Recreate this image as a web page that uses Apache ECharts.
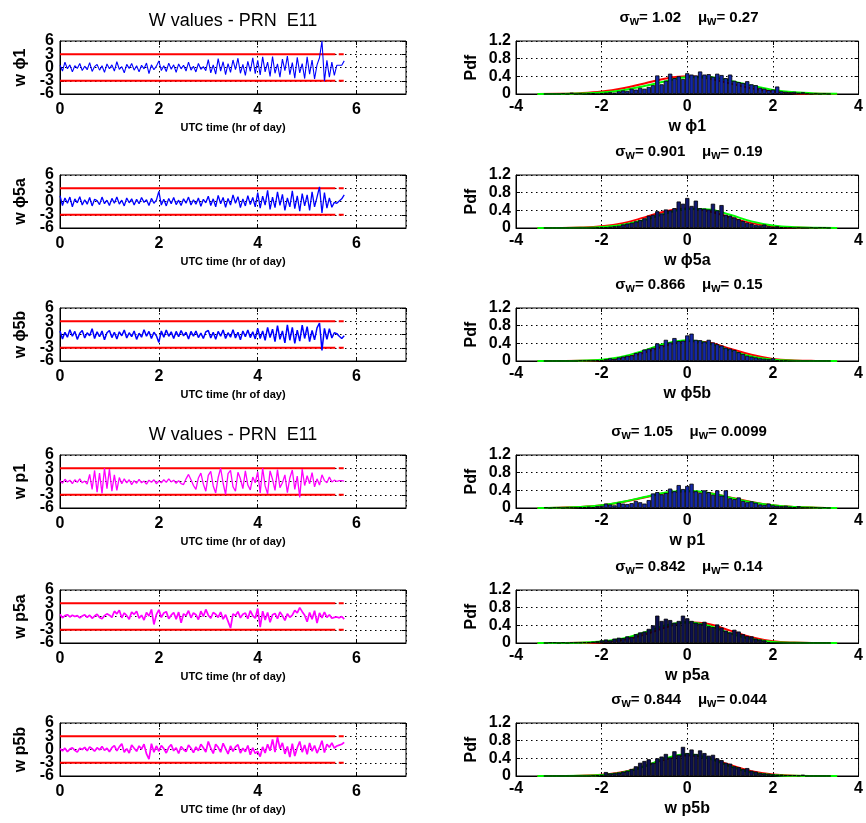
<!DOCTYPE html>
<html><head><meta charset="utf-8">
<script src="https://cdn.jsdelivr.net/npm/echarts@6/dist/echarts.min.js"></script>
<style>html,body{margin:0;padding:0;background:#fff}#c{width:866px;height:823px}</style>
</head><body><div id="c"></div>
<script>
// ---------- DATA ----------
const rowLabels = ['w ϕ1','w ϕ5a','w ϕ5b','w p1','w p5a','w p5b'];
const sigmaW = ['1.02','0.901','0.866','1.05','0.842','0.844'];
const muW = ['0.27','0.19','0.15','0.0099','0.14','0.044'];
const leftTitle = 'W values - PRN  E11';
const timeAxisName = 'UTC time (hr of day)';
const thresholdLevels = [3, -3];
const thresholdSegments = [[0, 5.57], [5.64, 5.74]];

const timeHours = [
0,0.05,0.1,0.15,0.2,0.25,0.3,0.35,0.4,0.45,0.5,0.55,0.6,0.65,0.7,0.75,0.8,0.85,0.9,0.95,
1,1.05,1.1,1.15,1.2,1.25,1.3,1.35,1.4,1.45,1.5,1.55,1.6,1.65,1.7,1.75,1.8,1.85,1.9,1.95,
2,2.05,2.1,2.15,2.2,2.25,2.3,2.35,2.4,2.45,2.5,2.55,2.6,2.65,2.7,2.75,2.8,2.85,2.9,2.95,
3,3.05,3.1,3.15,3.2,3.25,3.3,3.35,3.4,3.45,3.5,3.55,3.6,3.65,3.7,3.75,3.8,3.85,3.9,3.95,
4,4.05,4.1,4.15,4.2,4.25,4.3,4.35,4.4,4.45,4.5,4.55,4.6,4.65,4.7,4.75,4.8,4.85,4.9,4.95,
5,5.05,5.1,5.15,5.2,5.25,5.3,5.35,5.4,5.45,5.5,5.55,5.6,5.65,5.7,5.75];

const wPhi1 = [
0.5,-0.8,1.2,-0.3,0.6,-1.0,0.4,-0.2,0.9,-0.7,0.3,-0.5,1.1,-0.9,0.2,0.7,-0.6,0.4,-1.1,0.8,
-0.3,0.6,-0.8,1.3,-0.4,0.2,-1.2,0.7,-0.2,0.9,-0.6,0.4,-1.0,0.5,-0.3,1.0,-1.4,0.6,-0.5,0.3,
1.5,-0.7,0.4,-0.9,1.0,-0.4,0.6,-1.1,0.8,-0.3,0.5,-0.8,1.2,-0.6,0.3,-1.0,0.9,-0.4,0.2,-0.7,
1.8,-1.2,0.6,-1.5,2.0,-0.8,1.3,-1.6,0.9,-1.1,1.7,-0.5,2.1,-1.3,0.7,-1.8,1.4,-0.9,2.2,-1.4,
1.6,-1.7,2.4,-1.0,1.2,-2.0,2.5,-1.3,0.8,-2.2,1.9,-0.7,2.6,-1.6,1.1,-2.4,2.3,-1.2,0.9,-2.5,
2.4,-1.5,1.7,-2.6,0.6,2.2,6.0,-3.1,1.6,-2.2,1.2,-1.8,0.5,0.5,0.5,1.5];
const wPhi5a = [
1.3,-0.9,0.8,-0.4,1.0,-1.2,0.6,-0.3,1.1,-0.8,0.4,-0.6,0.9,-1.0,0.5,0.2,-0.7,1.0,-0.5,0.3,
-0.9,0.7,-0.4,1.0,-0.6,0.3,-1.0,0.8,-0.3,0.6,-0.8,0.5,-0.5,0.9,-0.2,0.4,-0.9,0.7,-0.4,0.3,
2.3,-0.8,0.5,-1.0,0.7,-0.5,0.9,-0.7,0.3,-0.9,0.6,-0.4,1.0,-0.8,0.4,-0.6,0.8,-1.1,0.5,-0.3,
1.2,-0.9,0.6,-1.2,1.4,-0.5,0.9,-1.3,0.7,-0.8,1.5,-0.4,1.1,-1.4,0.6,-1.0,1.3,-0.7,0.9,-1.2,
2.0,-1.5,1.2,-0.8,2.5,-1.8,1.0,-1.4,2.2,-0.9,1.6,-2.0,0.8,-1.2,2.4,-1.6,1.3,-2.2,1.8,-1.0,
1.5,-2.0,2.2,-1.2,1.0,3.3,-2.6,2.0,-1.5,0.8,-1.3,-0.2,-0.4,0.1,0.6,1.5];
const wPhi5b = [
0.8,-1.0,0.5,-0.6,1.1,-0.4,0.7,-1.1,0.3,0.9,-0.8,0.4,-0.3,1.3,-0.9,0.6,-0.5,0.8,-1.2,0.4,
0.9,-0.7,0.5,-1.0,0.6,-0.3,1.0,-0.8,0.4,-0.5,0.8,-1.1,0.3,-0.6,1.1,-0.4,0.7,-0.9,0.5,-0.3,
-1.8,0.8,-0.6,1.0,-0.4,0.6,-0.9,0.7,-0.5,0.9,-0.3,0.5,-1.0,0.7,-0.4,0.8,-0.7,0.3,-0.9,0.6,
0.9,-0.8,0.5,-1.1,0.7,-0.4,1.0,-0.9,0.4,-0.6,1.1,-0.8,0.5,-1.2,0.8,-0.5,1.0,-0.7,0.6,-1.0,
1.4,-0.9,0.8,-1.3,1.6,-0.7,1.2,-1.6,2.0,-1.1,0.8,-1.9,2.2,-1.3,1.6,-2.0,1.0,-1.5,2.1,-0.9,
1.8,-1.6,0.9,-1.2,1.5,2.6,-3.6,1.4,-1.1,1.3,-0.8,0.4,0.2,-0.4,-0.9,-0.3];
const wP1 = [
0.2,-0.4,0.5,-0.1,0.3,-0.5,0.4,-0.2,0.6,-0.3,0.1,-0.6,1.6,-1.8,2.5,-2.4,1.9,-2.7,3.0,-1.6,
2.8,-2.2,1.5,-2.0,0.9,-0.5,0.6,-0.3,0.4,-0.7,0.2,-0.4,0.5,-0.3,0.1,-0.6,0.3,-0.2,0.4,-0.5,
0.1,-0.3,0.4,-0.2,0.6,-0.1,0.3,-0.4,0.2,-0.5,-0.7,0.6,1.6,0.4,-0.9,-1.8,0.8,1.9,-0.6,-2.2,
1.4,2.3,-1.0,-2.6,0.9,3.0,-0.4,-2.9,1.8,2.5,-1.2,-2.2,2.1,0.6,-1.6,2.4,-0.8,-1.9,1.0,-0.3,
2.2,-2.6,3.0,-1.0,-2.8,2.4,0.5,-2.0,2.7,-1.4,-0.3,1.5,-2.5,0.8,2.6,-1.8,1.2,-3.6,2.8,-0.9,
1.3,-0.5,2.0,-1.2,0.6,-0.8,1.5,0.2,-0.3,1.0,-0.1,0.3,0.0,0.2,0.2,0.1];
const wP5a = [
0.5,-0.3,0.2,0.4,-0.1,0.3,0.0,0.2,-0.3,0.1,0.4,-0.2,0.3,-0.4,0.1,0.5,-0.2,-0.5,0.2,0.6,
0.3,-0.2,1.2,0.6,1.4,-0.3,0.8,0.2,-0.6,1.0,0.5,1.2,-0.4,0.3,-0.8,0.9,0.1,1.6,-1.8,0.4,
1.5,-0.2,0.8,1.1,-0.5,0.3,0.9,-0.6,1.0,-1.4,0.6,0.2,1.3,-0.3,0.8,0.4,-0.7,1.2,0.0,1.6,
0.3,-0.4,0.9,0.5,-0.2,1.0,-0.6,0.4,-1.1,-2.6,0.6,0.2,1.1,-0.3,0.5,0.8,-0.5,1.3,0.2,-0.4,
1.8,-2.4,1.2,-0.8,0.9,-1.3,0.4,0.7,-0.5,1.0,0.2,-0.9,0.6,-0.2,0.3,1.4,0.8,2.0,1.1,0.3,
-1.2,0.9,-0.6,1.3,-1.5,0.8,-0.3,1.0,-0.2,0.4,-0.4,-0.2,-0.1,-0.3,0.0,-0.6];
const wP5b = [
0.2,-0.3,0.3,-0.5,0.1,0.4,-0.2,-0.6,0.3,0.0,0.5,-0.3,0.6,0.2,-0.4,0.4,-0.1,0.7,-0.2,0.3,
-0.5,0.4,0.9,-0.3,0.6,1.3,-0.6,0.2,-0.8,1.0,0.3,-0.4,0.8,0.1,1.2,-1.0,-2.2,1.3,-0.6,0.8,
-0.4,0.9,0.2,-0.8,0.5,1.1,-0.3,0.4,-0.9,0.7,0.0,-0.5,1.0,0.3,-0.7,0.6,-0.3,1.2,0.4,-0.6,
1.8,0.3,-0.9,1.2,0.5,-0.6,1.4,0.2,-1.0,0.8,-0.4,0.6,1.1,-0.8,0.3,-0.5,0.9,-1.2,0.4,-0.9,
-0.4,-1.6,0.6,-0.8,1.2,-0.3,2.3,-0.6,2.8,0.2,1.5,-1.0,0.7,-1.7,1.3,-1.5,0.4,1.8,-0.6,1.0,
-1.1,1.5,-0.4,0.9,-0.8,0.4,2.0,-0.7,1.2,0.5,1.5,0.3,0.8,1.0,1.2,1.6];

const binCenters = [
-3.3,-3.2,-3.1,-3.0,-2.9,-2.8,-2.7,-2.6,-2.5,-2.4,-2.3,-2.2,-2.1,-2.0,-1.9,-1.8,-1.7,-1.6,-1.5,-1.4,
-1.3,-1.2,-1.1,-1.0,-0.9,-0.8,-0.7,-0.6,-0.5,-0.4,-0.3,-0.2,-0.1,0,0.1,0.2,0.3,0.4,0.5,0.6,
0.7,0.8,0.9,1.0,1.1,1.2,1.3,1.4,1.5,1.6,1.7,1.8,1.9,2.0,2.1,2.2,2.3,2.4,2.5,2.6,
2.7,2.8,2.9,3.0,3.1,3.2,3.3];

const pdfPhi1 = [
0,0,0,0,0.01,0,0.03,0,0.01,0,0.01,0.02,0,0.02,0.03,0.04,0.03,0.06,0.08,0.07,
0.12,0.10,0.14,0.12,0.16,0.20,0.42,0.22,0.30,0.46,0.36,0.40,0.34,0.47,0.44,0.42,0.51,0.44,0.45,0.39,
0.46,0.43,0.36,0.44,0.30,0.27,0.25,0.29,0.22,0.20,0.14,0.12,0.09,0.10,0.17,0.06,0.05,0.04,0.05,0.03,
0.04,0.01,0,0.01,0,0.01,0];
const pdfPhi5a = [
0,0,0,0,0,0,0,0,0,0,0,0,0.01,0.02,0.02,0.03,0.04,0.05,0.08,0.10,
0.12,0.15,0.18,0.22,0.28,0.30,0.38,0.33,0.42,0.40,0.45,0.60,0.55,0.68,0.50,0.62,0.45,0.44,0.42,0.55,
0.40,0.52,0.30,0.28,0.24,0.20,0.16,0.12,0.10,0.07,0.06,0.08,0.04,0.03,0.04,0.02,0.01,0.01,0,0.01,
0,0,0.01,0,0.01,0.01,0];
const pdfPhi5b = [
0,0,0,0,0,0,0,0,0.01,0.01,0.01,0.01,0.02,0.02,0.04,0.06,0.05,0.08,0.10,0.12,
0.13,0.18,0.20,0.26,0.28,0.30,0.40,0.36,0.48,0.42,0.52,0.45,0.46,0.58,0.62,0.48,0.47,0.44,0.48,0.42,
0.38,0.35,0.30,0.28,0.25,0.20,0.16,0.12,0.10,0.08,0.06,0.05,0.04,0.06,0.02,0.01,0.01,0,0,0,
0,0,0,0,0,0,0];
const pdfP1 = [
0.01,0,0.01,0.01,0,0.01,0.01,0.01,0.02,0.02,0.03,0.02,0.04,0.05,0.10,0.08,0.06,0.12,0.10,0.09,
0.11,0.16,0.13,0.10,0.18,0.33,0.36,0.31,0.34,0.44,0.38,0.52,0.43,0.50,0.55,0.38,0.34,0.40,0.36,0.30,
0.40,0.28,0.40,0.22,0.20,0.24,0.16,0.13,0.15,0.12,0.08,0.07,0.10,0.06,0.05,0.04,0.05,0.03,0.02,0.04,
0.01,0.01,0.01,0.01,0,0.01,0];
const pdfP5a = [
0,0.01,0.01,0,0.01,0,0.01,0.01,0.01,0.02,0.02,0.03,0.04,0.06,0.08,0.06,0.10,0.12,0.11,0.15,
0.14,0.20,0.24,0.26,0.32,0.40,0.62,0.50,0.55,0.52,0.46,0.50,0.62,0.56,0.50,0.46,0.44,0.48,0.38,0.36,
0.42,0.35,0.28,0.24,0.30,0.26,0.20,0.16,0.15,0.10,0.08,0.06,0.02,0,0,0,0,0,0,0,
0,0,0,0,0,0,0];
const pdfP5b = [
0,0,0,0,0,0,0,0,0,0,0,0.01,0.02,0.03,0.09,0.06,0.07,0.08,0.10,0.12,
0.16,0.22,0.30,0.34,0.38,0.30,0.40,0.44,0.50,0.42,0.56,0.48,0.66,0.52,0.60,0.50,0.58,0.52,0.46,0.48,
0.40,0.36,0.30,0.28,0.22,0.20,0.16,0.18,0.12,0.10,0.07,0.06,0.05,0.04,0.03,0.03,0.02,0.02,0.02,0.01,
0.03,0,0,0,0,0,0];

const curveX = [-3.5,-3,-2.5,-2,-1.5,-1,-0.5,0,0.5,1,1.5,2,2.5,3,3.5];
const redPhi1 = [0.001,0.004,0.018,0.054,0.13,0.24,0.35,0.40,0.35,0.24,0.13,0.054,0.018,0.004,0.001];
const greenPhi1 = [0.001,0.002,0.01,0.033,0.086,0.18,0.29,0.38,0.38,0.30,0.19,0.093,0.037,0.011,0.003];
const redPhi5a = [0,0.001,0.009,0.038,0.11,0.24,0.38,0.44,0.38,0.24,0.11,0.038,0.009,0.001,0];
const greenPhi5a = [0,0.001,0.005,0.024,0.076,0.18,0.33,0.43,0.42,0.30,0.15,0.058,0.017,0.003,0];
const redPhi5b = [0,0.001,0.004,0.022,0.075,0.19,0.35,0.455,0.42,0.28,0.14,0.047,0.012,0.002,0];
const greenPhi5b = [0,0.001,0.008,0.03,0.10,0.24,0.395,0.47,0.395,0.24,0.10,0.03,0.008,0.001,0];
const redP1 = [0.002,0.007,0.023,0.062,0.137,0.24,0.34,0.38,0.34,0.24,0.137,0.062,0.023,0.007,0.002];
const greenP1 = [0.002,0.006,0.02,0.06,0.14,0.25,0.35,0.39,0.34,0.235,0.13,0.06,0.022,0.007,0.002];
const redP5a = [0,0.001,0.004,0.019,0.072,0.19,0.355,0.47,0.43,0.28,0.13,0.04,0.009,0.001,0];
const greenP5a = [0,0.001,0.008,0.032,0.10,0.24,0.40,0.47,0.39,0.22,0.09,0.025,0.005,0.001,0];
const redP5b = [0,0.001,0.006,0.026,0.09,0.22,0.38,0.47,0.41,0.25,0.11,0.034,0.008,0.001,0];
const greenP5b = [0,0.001,0.004,0.023,0.08,0.22,0.40,0.49,0.40,0.22,0.08,0.023,0.004,0.001,0];

// ---------- LAYOUT / STYLE ----------
const FONT = '"Liberation Sans", Arial, Helvetica, sans-serif';
const rowTops = [41,175,308,455,590,723];
const rowH = 53, leftX = 60, rightX = 516, plotW = 346;
const tsSeries = [wPhi1,wPhi5a,wPhi5b,wP1,wP5a,wP5b];
const tsColors = ['#0000ff','#0000ff','#0000ff','#ff00ff','#ff00ff','#ff00ff'];
const tsWidths = [1.1,1.3,1.5,1.3,1.7,1.7];
const pdfSeries = [pdfPhi1,pdfPhi5a,pdfPhi5b,pdfP1,pdfP5a,pdfP5b];
const redCurves = [redPhi1,redPhi5a,redPhi5b,redP1,redP5a,redP5b];
const greenCurves = [greenPhi1,greenPhi5a,greenPhi5b,greenP1,greenP5a,greenP5b];
const barFills = ['#1428a8','#101870','#1428a8','#1428a8','#0c1050','#0c1050'];

const dotted = {show:true, lineStyle:{color:'#000', type:[1.5,3.5], width:1}};
function nameStyle(sz){ return {fontFamily:FONT, fontWeight:'bold', fontSize:sz, color:'#000'}; }
function lblStyle(m, extra){ return Object.assign({fontFamily:FONT, fontWeight:'bold', fontSize:16, color:'#000', margin:m, hideOverlap:false}, extra||{}); }
const axLine = {show:true, onZero:false, lineStyle:{color:'#000', width:1}};
const axTick = {show:true, inside:true, length:4, lineStyle:{color:'#000'}};
const noLine = {show:false, onZero:false};

const grids=[], xAxes=[], yAxes=[], series=[], graphics=[];
function addX(o){ xAxes.push(o); return xAxes.length-1; }
function addY(o){ yAxes.push(o); return yAxes.length-1; }
function mirror(gi, isX, range){
  const o = Object.assign({gridIndex:gi, type:'value', position: isX?'top':'right', axisLine:noLine, axisLabel:{show:false},
    splitLine:{show:false}, axisTick:axTick}, range);
  if (isX) addX(o); else addY(o);
}
for (let r=0;r<6;r++){
  const top=rowTops[r];
  const gl=grids.length; grids.push({left:leftX, top, width:plotW, height:rowH, show:true, borderColor:'#000', borderWidth:1});
  const gr=grids.length; grids.push({left:rightX, top, width:plotW, height:rowH, show:true, borderColor:'#000', borderWidth:1});

  const tRange = {min:0, max:7, interval:2}, wRange = {min:-6, max:6, interval:3};
  const hRange = {min:-4, max:4, interval:2}, pRange = {min:0, max:1.2, interval:0.4};

  const xl = addX(Object.assign({gridIndex:gl, type:'value', position:'bottom', name:timeAxisName, nameLocation:'middle', nameGap:28,
    nameTextStyle:nameStyle(11), axisLine:axLine, axisTick:axTick,
    axisLabel:lblStyle(8, {showMaxLabel:false, formatter:v=>(v%2===0?String(v):'')}), splitLine:dotted}, tRange));
  // main left y axis: grid lines, ticks and the ±3 labels
  const yl = addY(Object.assign({gridIndex:gl, type:'value', position:'left', offset:0, name:rowLabels[r], nameLocation:'middle', nameGap:31,
    nameTextStyle:nameStyle(16), axisLine:axLine, axisTick:axTick,
    axisLabel:lblStyle(6, {showMinLabel:false, showMaxLabel:false, formatter:v=>(Math.abs(v)===3?String(v):'')}), splitLine:dotted}, wRange));
  // companion axis on the same side carrying the -6 / 0 / 6 labels
  addY({gridIndex:gl, type:'value', position:'left', offset:0, min:-6, max:6, interval:6, axisLine:noLine, axisTick:{show:false}, splitLine:{show:false},
    axisLabel:lblStyle(6, {showMinLabel:true, showMaxLabel:true})});
  mirror(gl, true, tRange); mirror(gl, false, wRange);

  const xr = addX(Object.assign({gridIndex:gr, type:'value', position:'bottom', name:rowLabels[r], nameLocation:'middle', nameGap:25,
    nameTextStyle:nameStyle(16), axisLine:axLine, axisTick:axTick,
    axisLabel:lblStyle(5, {showMinLabel:true, showMaxLabel:true}), splitLine:dotted}, hRange));
  const yr = addY(Object.assign({gridIndex:gr, type:'value', position:'left', name:'Pdf', nameLocation:'middle', nameGap:36,
    nameTextStyle:nameStyle(16), axisLine:axLine, axisTick:axTick,
    axisLabel:lblStyle(5, {showMinLabel:true, showMaxLabel:true, formatter:v=>String(Math.round(v*10)/10)}), splitLine:dotted}, pRange));
  mirror(gr, true, hRange); mirror(gr, false, pRange);

  thresholdLevels.forEach(lv=>{
    thresholdSegments.forEach(seg=>{
      series.push({type:'line', xAxisIndex:xl, yAxisIndex:yl, data:[[seg[0],lv],[seg[1],lv]], showSymbol:false,
        lineStyle:{color:'#ff0000', width:2}, z:3, silent:true});
    });
  });
  series.push({type:'line', xAxisIndex:xl, yAxisIndex:yl, data:timeHours.map((t,i)=>[t,tsSeries[r][i]]),
    showSymbol:false, lineStyle:{color:tsColors[r], width:tsWidths[r]}, z:4, silent:true});

  series.push({type:'line', xAxisIndex:xr, yAxisIndex:yr, data:curveX.map((x,i)=>[x,redCurves[r][i]]), smooth:0.4,
    showSymbol:false, lineStyle:{color:'#ff0000', width:2}, z:1, silent:true});
  series.push({type:'line', xAxisIndex:xr, yAxisIndex:yr, data:curveX.map((x,i)=>[x,greenCurves[r][i]]), smooth:0.4,
    showSymbol:false, lineStyle:{color:'#00ff00', width:2}, z:1, silent:true});
  series.push({type:'bar', xAxisIndex:xr, yAxisIndex:yr, data:binCenters.map((c,i)=>[c,pdfSeries[r][i]]), barWidth:4.3,
    itemStyle:{color:barFills[r], borderColor:'#000', borderWidth:0.8}, z:2, silent:true});

  graphics.push({type:'text', x:rightX+plotW/2, y:top-31, silent:true, style:{
    text:'{n|σ}{s|w}{n|= '+sigmaW[r]+'    μ}{s|w}{n|= '+muW[r]+'}',
    textAlign:'center', align:'center', textVerticalAlign:'top', verticalAlign:'top',
    rich:{ n:{fontFamily:FONT, fontWeight:'bold', fontSize:15, lineHeight:16, verticalAlign:'top', fill:'#000', color:'#000'},
           s:{fontFamily:FONT, fontWeight:'bold', fontSize:12, lineHeight:16, verticalAlign:'top', padding:[6,0,0,0], fill:'#000', color:'#000'} }
  }});
}
[0,3].forEach(r=>{
  graphics.push({type:'text', x:leftX+plotW/2, y:rowTops[r]-19.5, silent:true, style:{
    text:leftTitle, font:'normal 18px '+FONT, fill:'#000',
    textAlign:'center', align:'center', textVerticalAlign:'middle', verticalAlign:'middle'}});
});

const chart = echarts.init(document.getElementById('c'));
chart.setOption({animation:false, backgroundColor:'#fff', grid:grids, xAxis:xAxes, yAxis:yAxes, series, graphic:graphics});
</script></body></html>
